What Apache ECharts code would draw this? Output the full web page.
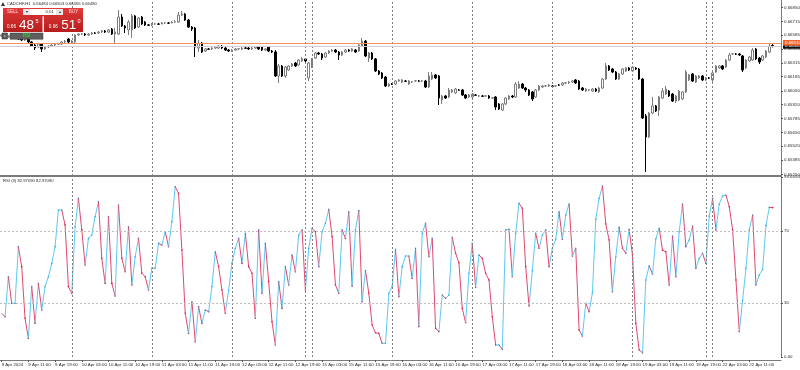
<!DOCTYPE html>
<html><head><meta charset="utf-8">
<script src="https://cdn.jsdelivr.net/npm/echarts@6/dist/echarts.min.js"></script>
<style>html,body{margin:0;padding:0;background:#fff;}#chart{width:800px;height:370px;}</style>
</head><body><div id="chart"></div>
<script>
const symbolTitle = 'CADCHF,H1  0.66484 0.66503 0.66465 0.66480';
const rsiTitle = 'RSI (3) 82.97090 82.97090';
const tradingDays = ['9 Apr','10 Apr','11 Apr','12 Apr','15 Apr','16 Apr','17 Apr','18 Apr','19 Apr','22 Apr'];
const dayHourRange = [[3,23],[0,23],[0,23],[0,23],[0,23],[0,23],[0,23],[0,23],[0,23],[0,18]];
const emptySlots = 2;
const xTickLabels = ['9 Apr 2024','9 Apr 11:00','9 Apr 19:00','10 Apr 03:00','10 Apr 11:00','10 Apr 19:00','11 Apr 03:00','11 Apr 11:00','11 Apr 19:00','12 Apr 03:00','12 Apr 11:00','12 Apr 19:00','15 Apr 03:00','15 Apr 11:00','15 Apr 19:00','16 Apr 03:00','16 Apr 11:00','16 Apr 19:00','17 Apr 03:00','17 Apr 11:00','17 Apr 19:00','18 Apr 03:00','18 Apr 11:00','18 Apr 19:00','19 Apr 03:00','19 Apr 11:00','19 Apr 19:00','22 Apr 03:00','22 Apr 11:00'];
const xTickEvery = 8;
const priceTicks = [0.66850,0.66715,0.66585,0.66450,0.66315,0.66185,0.66050,0.65920,0.65785,0.65650,0.65520,0.65385,0.65250];
const priceMin = 0.65234, priceMax = 0.66920;
const rsiTicks = [100, 70, 30, 0];
const rsiTickLabels = ['99.66945', '70', '30', '0.00'];
const rsiLevels = [70, 30];
const separatorIdx = [21,45,69,91,93,117,141,165,189,211,213];
const askPrice = 0.66510, bidPrice = 0.66480;

const opens = [0.66575,0.66585,0.66566,0.66575,0.66556,0.66566,0.66546,0.66537,0.66546,0.66518,
0.66489,0.66470,0.66498,0.66451,0.66470,0.66479,0.66489,0.66498,0.66498,0.66518,
0.66546,0.66518,0.66518,0.66585,0.66594,0.66594,0.66585,0.66594,0.66604,0.66604,
0.66613,0.66623,0.66613,0.66642,0.66594,0.66594,0.66757,0.66671,0.66633,0.66633,
0.66767,0.66661,0.66757,0.66709,0.66681,0.66681,0.66690,0.66690,0.66690,0.66700,
0.66700,0.66700,0.66709,0.66709,0.66776,0.66786,0.66728,0.66661,0.66652,0.66460,
0.66508,0.66431,0.66451,0.66451,0.66460,0.66460,0.66479,0.66460,0.66441,0.66431,
0.66441,0.66451,0.66451,0.66460,0.66460,0.66451,0.66460,0.66470,0.66470,0.66441,
0.66470,0.66431,0.66422,0.66192,0.66288,0.66192,0.66249,0.66288,0.66316,0.66297,
0.66336,0.66355,0.66173,0.66278,0.66364,0.66412,0.66403,0.66374,0.66412,0.66431,
0.66441,0.66422,0.66393,0.66422,0.66441,0.66431,0.66441,0.66431,0.66479,0.66527,
0.66364,0.66412,0.66355,0.66240,0.66221,0.66182,0.66096,0.66115,0.66115,0.66144,
0.66134,0.66144,0.66115,0.66134,0.66144,0.66144,0.66144,0.66144,0.66087,0.66163,
0.66202,0.66192,0.65962,0.66000,0.65991,0.66039,0.66029,0.66058,0.66058,0.66010,
0.65991,0.65991,0.66010,0.66000,0.66000,0.66000,0.66000,0.65981,0.65991,0.65924,
0.65866,0.65924,0.65972,0.66000,0.65991,0.66077,0.66115,0.66077,0.66058,0.66039,
0.65991,0.66058,0.66087,0.66096,0.66096,0.66096,0.66096,0.66106,0.66106,0.66125,
0.66125,0.66134,0.66154,0.66144,0.66077,0.66048,0.66058,0.66048,0.66067,0.66039,
0.66077,0.66163,0.66288,0.66259,0.66230,0.66163,0.66211,0.66240,0.66269,0.66240,
0.66269,0.66259,0.66163,0.65809,0.65608,0.65837,0.65905,0.65866,0.65981,0.66019,
0.66048,0.66019,0.65952,0.65962,0.65972,0.66039,0.66154,0.66211,0.66134,0.66173,
0.66192,0.66154,0.66173,0.66154,0.66230,0.66269,0.66288,0.66278,0.66345,0.66403,
0.66403,0.66403,0.66384,0.66269,0.66336,0.66345,0.66451,0.66364,0.66345,0.66374,
0.66422,0.66484];
const closes = [0.66585,0.66566,0.66575,0.66556,0.66566,0.66546,0.66537,0.66546,0.66518,0.66479,
0.66460,0.66498,0.66451,0.66470,0.66479,0.66489,0.66498,0.66500,0.66518,0.66527,
0.66518,0.66527,0.66585,0.66594,0.66596,0.66585,0.66594,0.66604,0.66602,0.66613,
0.66623,0.66613,0.66633,0.66594,0.66613,0.66757,0.66671,0.66652,0.66709,0.66767,
0.66652,0.66748,0.66690,0.66681,0.66679,0.66690,0.66692,0.66688,0.66700,0.66702,
0.66698,0.66709,0.66711,0.66776,0.66786,0.66728,0.66661,0.66642,0.66470,0.66508,
0.66422,0.66451,0.66449,0.66460,0.66470,0.66479,0.66460,0.66441,0.66431,0.66441,
0.66451,0.66453,0.66460,0.66458,0.66451,0.66460,0.66470,0.66451,0.66441,0.66451,
0.66431,0.66422,0.66192,0.66288,0.66192,0.66278,0.66288,0.66307,0.66288,0.66345,
0.66355,0.66336,0.66316,0.66345,0.66412,0.66403,0.66364,0.66412,0.66431,0.66441,
0.66422,0.66393,0.66422,0.66441,0.66431,0.66451,0.66422,0.66489,0.66527,0.66384,
0.66412,0.66355,0.66240,0.66211,0.66173,0.66096,0.66115,0.66113,0.66144,0.66154,
0.66154,0.66142,0.66144,0.66136,0.66146,0.66142,0.66146,0.66087,0.66192,0.66202,
0.66173,0.65981,0.66000,0.65981,0.66058,0.66058,0.66067,0.66056,0.66010,0.65981,
0.66010,0.66019,0.66008,0.66002,0.65998,0.66002,0.65981,0.65983,0.65895,0.65876,
0.65924,0.65981,0.66000,0.65991,0.66115,0.66115,0.66077,0.66058,0.66010,0.65972,
0.66058,0.66096,0.66096,0.66098,0.66106,0.66094,0.66098,0.66104,0.66125,0.66127,
0.66134,0.66144,0.66125,0.66067,0.66058,0.66067,0.66060,0.66067,0.66048,0.66077,
0.66163,0.66288,0.66249,0.66230,0.66163,0.66211,0.66259,0.66269,0.66249,0.66278,
0.66259,0.66163,0.65790,0.65608,0.65837,0.65905,0.65857,0.65991,0.66048,0.66067,
0.66000,0.65952,0.66000,0.66048,0.66039,0.66230,0.66202,0.66144,0.66192,0.66192,
0.66154,0.66173,0.66171,0.66221,0.66288,0.66288,0.66259,0.66345,0.66393,0.66405,
0.66401,0.66393,0.66249,0.66345,0.66374,0.66441,0.66355,0.66326,0.66384,0.66431,
0.66479,0.66480];
const lows = [0.66566,0.66556,0.66556,0.66546,0.66546,0.66537,0.66527,0.66527,0.66508,0.66470,
0.66441,0.66460,0.66422,0.66441,0.66460,0.66470,0.66479,0.66489,0.66489,0.66508,
0.66508,0.66508,0.66508,0.66575,0.66585,0.66575,0.66575,0.66585,0.66594,0.66594,
0.66604,0.66604,0.66604,0.66585,0.66508,0.66585,0.66661,0.66604,0.66585,0.66556,
0.66642,0.66652,0.66681,0.66671,0.66671,0.66671,0.66681,0.66681,0.66688,0.66690,
0.66690,0.66698,0.66700,0.66700,0.66767,0.66719,0.66652,0.66623,0.66374,0.66422,
0.66412,0.66422,0.66441,0.66441,0.66451,0.66451,0.66451,0.66431,0.66422,0.66422,
0.66431,0.66441,0.66441,0.66451,0.66441,0.66441,0.66451,0.66441,0.66431,0.66431,
0.66422,0.66412,0.66182,0.66125,0.66182,0.66173,0.66240,0.66278,0.66278,0.66288,
0.66326,0.66326,0.66144,0.66269,0.66355,0.66393,0.66345,0.66364,0.66403,0.66422,
0.66412,0.66345,0.66384,0.66412,0.66422,0.66422,0.66412,0.66422,0.66470,0.66374,
0.66326,0.66345,0.66230,0.66202,0.66163,0.66087,0.66087,0.66106,0.66106,0.66134,
0.66125,0.66134,0.66106,0.66125,0.66134,0.66134,0.66134,0.66077,0.66077,0.66154,
0.66163,0.65914,0.65924,0.65972,0.65981,0.66029,0.66019,0.66048,0.66000,0.65972,
0.65981,0.65981,0.66000,0.65991,0.65991,0.65991,0.65972,0.65972,0.65866,0.65866,
0.65857,0.65914,0.65962,0.65981,0.65981,0.66067,0.66067,0.66039,0.66000,0.65952,
0.65981,0.66048,0.66077,0.66087,0.66087,0.66087,0.66087,0.66096,0.66096,0.66115,
0.66115,0.66125,0.66115,0.66058,0.66048,0.66039,0.66048,0.66039,0.66039,0.66029,
0.66067,0.66154,0.66240,0.66221,0.66154,0.66154,0.66202,0.66230,0.66240,0.66230,
0.66249,0.66154,0.65780,0.65272,0.65598,0.65828,0.65847,0.65809,0.65972,0.66010,
0.65991,0.65943,0.65933,0.65952,0.65962,0.66029,0.66144,0.66134,0.66125,0.66163,
0.66144,0.66144,0.66163,0.66134,0.66221,0.66259,0.66249,0.66269,0.66336,0.66393,
0.66393,0.66384,0.66230,0.66259,0.66326,0.66336,0.66345,0.66307,0.66336,0.66364,
0.66412,0.66465];
const highs = [0.66594,0.66594,0.66585,0.66585,0.66575,0.66575,0.66556,0.66556,0.66556,0.66527,
0.66498,0.66508,0.66508,0.66479,0.66489,0.66498,0.66508,0.66508,0.66527,0.66537,
0.66556,0.66537,0.66594,0.66604,0.66604,0.66604,0.66604,0.66613,0.66613,0.66623,
0.66633,0.66633,0.66642,0.66652,0.66652,0.66824,0.66786,0.66681,0.66728,0.66786,
0.66776,0.66757,0.66767,0.66719,0.66690,0.66700,0.66700,0.66700,0.66709,0.66709,
0.66709,0.66719,0.66728,0.66805,0.66815,0.66795,0.66738,0.66671,0.66661,0.66537,
0.66518,0.66460,0.66460,0.66470,0.66479,0.66489,0.66489,0.66470,0.66451,0.66451,
0.66460,0.66460,0.66470,0.66470,0.66470,0.66470,0.66479,0.66479,0.66479,0.66460,
0.66479,0.66441,0.66441,0.66307,0.66297,0.66288,0.66297,0.66316,0.66326,0.66355,
0.66374,0.66364,0.66326,0.66364,0.66422,0.66422,0.66412,0.66422,0.66441,0.66451,
0.66451,0.66431,0.66431,0.66451,0.66451,0.66460,0.66451,0.66498,0.66556,0.66537,
0.66422,0.66422,0.66364,0.66249,0.66230,0.66192,0.66125,0.66125,0.66154,0.66163,
0.66163,0.66154,0.66154,0.66144,0.66154,0.66154,0.66154,0.66154,0.66230,0.66230,
0.66211,0.66202,0.66010,0.66010,0.66077,0.66067,0.66077,0.66067,0.66067,0.66019,
0.66019,0.66029,0.66019,0.66010,0.66010,0.66010,0.66010,0.65991,0.66000,0.65933,
0.65933,0.65991,0.66010,0.66010,0.66134,0.66144,0.66125,0.66087,0.66067,0.66048,
0.66067,0.66106,0.66106,0.66106,0.66115,0.66106,0.66106,0.66115,0.66134,0.66134,
0.66144,0.66154,0.66163,0.66154,0.66087,0.66077,0.66067,0.66077,0.66077,0.66087,
0.66173,0.66316,0.66297,0.66269,0.66240,0.66221,0.66269,0.66278,0.66278,0.66288,
0.66278,0.66269,0.66173,0.65828,0.65847,0.65991,0.65914,0.66000,0.66077,0.66096,
0.66058,0.66029,0.66010,0.66058,0.66048,0.66249,0.66211,0.66221,0.66202,0.66202,
0.66202,0.66182,0.66182,0.66230,0.66297,0.66297,0.66297,0.66355,0.66412,0.66412,
0.66412,0.66412,0.66393,0.66355,0.66384,0.66460,0.66460,0.66374,0.66393,0.66441,
0.66508,0.66503];
const rsiValues = [24.3,22.4,44.6,29.8,29.8,61.3,50.2,21.5,10.4,39.1,
18.7,40.9,26.1,39.1,44.6,52.0,61.3,81.7,81.7,73.3,
39.1,35.4,72.4,88.1,70.6,51.1,65.9,67.8,78.0,86.3,
54.8,40.9,78.0,40.9,33.9,84.4,54.8,47.4,72.4,40.0,
55.7,65.9,46.5,44.6,37.2,49.3,49.3,63.1,62.2,69.6,
61.3,75.2,94.6,90.9,59.4,24.3,13.1,30.7,8.5,28.0,
18.7,26.1,25.2,39.1,58.5,50.2,37.2,24.3,37.2,52.0,
60.4,65.9,52.0,68.7,50.2,46.5,21.5,70.6,
35.4,63.1,41.9,19.6,6.7,41.9,27.0,50.2,40.0,56.7,
47.4,67.8,70.6,37.2,60.4,71.5,69.6,50.2,69.6,74.3,
82.0,66.9,40.0,35.4,70.6,65.9,80.7,39.4,70.6,81.3,
30.7,48.0,35.4,17.8,13.5,13.1,7.6,7.6,35.4,39.1,
59.8,33.5,50.2,56.1,56.1,43.7,60.4,16.9,68.7,74.3,
55.7,65.9,15.9,14.1,34.4,32.6,34.4,66.5,57.6,52.4,
27.0,19.1,46.5,63.1,38.7,56.7,54.8,46.5,42.8,22.4,
6.7,6.7,4.3,70.6,70.9,44.6,68.7,85.4,
82.6,50.2,28.3,48.0,68.7,60.4,67.8,70.6,50.2,60.4,
65.4,80.7,65.4,78.9,85.0,56.1,60.4,15.0,11.7,29.8,
25.2,35.7,76.5,88.1,95.0,73.9,65.0,36.3,55.7,72.0,
60.4,57.6,70.9,56.7,18.7,3.9,2.4,42.8,50.6,46.1,
65.7,71.5,59.4,58.5,40.0,67.2,44.6,69.6,85.0,61.3,
65.0,72.8,49.3,54.8,57.6,52.0,78.3,88.1,70.6,85.0,
89.4,90.0,83.5,70.6,42.8,14.1,31.7,49.3,70.6,78.9,
40.0,45.6,48.7,73.1,83.1,82.97];

// ---- build categories (hourly bars) ----
const categories = [];
tradingDays.forEach((d, k) => {
  for (let h = dayHourRange[k][0]; h <= dayHourRange[k][1]; h++) categories.push(d + ' ' + String(h).padStart(2, '0') + ':00');
});
for (let e = 0; e < emptySlots; e++) categories.push(' '.repeat(e + 1));

const candleData = opens.map((o, i) => [o, closes[i], lows[i], highs[i]]);
const showTick = (i) => i % xTickEvery === 0 && i / xTickEvery < xTickLabels.length;

const FONT = 'Liberation Sans';
const TXT = '#2b2b2b';
const UP = '#5ec8f2', DN = '#e2476f', UPD = '#1f9fe0', DND = '#c8143f';
const SEP = { color: '#7f7f7f', type: [2, 2], width: 1 };
const sepLines = separatorIdx.map(v => ({ xAxis: v, lineStyle: SEP, label: { show: false } }));
const priceLabel = (bg) => ({ show: true, position: 'end', backgroundColor: bg, color: '#fff', fontSize: 4.4, fontFamily: FONT, padding: [0.8, 2], distance: 2 });

const chart = echarts.init(document.getElementById('chart'), null, { renderer: 'canvas' });
const option = {
  animation: false,
  backgroundColor: '#ffffff',
  grid: [
    { left: 0, top: 0, width: 781, height: 176, containLabel: false, outerBoundsMode: 'none' },
    { left: 0, top: 177, width: 781, height: 180, containLabel: false, outerBoundsMode: 'none' }
  ],
  xAxis: [
    { gridIndex: 0, type: 'category', data: categories, boundaryGap: true,
      axisLine: { show: true, lineStyle: { color: '#7a7a7a', width: 2 } },
      axisTick: { show: false }, axisLabel: { show: false }, splitLine: { show: false } },
    { gridIndex: 1, type: 'category', data: categories, boundaryGap: true, offset: 3,
      axisLine: { show: true, onZero: false, lineStyle: { color: '#7a7a7a', width: 1 } },
      axisTick: { show: true, alignWithLabel: true, interval: (i) => showTick(i), length: 2, lineStyle: { color: '#555' } },
      axisLabel: { show: true, interval: (i) => showTick(i), formatter: (v, i) => xTickLabels[i / xTickEvery],
        fontSize: 4.4, fontFamily: FONT, color: TXT, align: 'left', margin: 3 },
      splitLine: { show: false } }
  ],
  yAxis: [
    { gridIndex: 0, type: 'value', position: 'right', min: priceMin, max: priceMax,
      axisLine: { show: true, lineStyle: { color: '#7a7a7a', width: 1 } },
      axisTick: { show: true, customValues: priceTicks, length: 2, lineStyle: { color: '#555' } },
      axisLabel: { customValues: priceTicks, formatter: v => v.toFixed(5), fontSize: 4.4, fontFamily: FONT, color: TXT, margin: 3 },
      splitLine: { show: false } },
    { gridIndex: 1, type: 'value', position: 'right', min: 0, max: 100,
      axisLine: { show: true, lineStyle: { color: '#7a7a7a', width: 1 } },
      axisTick: { show: true, customValues: rsiTicks, length: 2, lineStyle: { color: '#555' } },
      axisLabel: { customValues: rsiTicks, formatter: v => rsiTickLabels[rsiTicks.indexOf(v)], fontSize: 4.4, fontFamily: FONT, color: TXT, margin: 3,
        showMinLabel: true, showMaxLabel: true },
      splitLine: { show: false } }
  ],
  series: [
    { type: 'line', xAxisIndex: 0, yAxisIndex: 0, data: [], silent: true, z: 1,
      markLine: { silent: true, symbol: 'none', animation: false, precision: 5,
        data: [
          ...sepLines,
          { yAxis: bidPrice, lineStyle: { color: '#cfcfcf', type: 'solid', width: 1 }, label: Object.assign(priceLabel('#111'), { formatter: bidPrice.toFixed(5) }) },
          { yAxis: askPrice, lineStyle: { color: '#f3925e', type: 'solid', width: 1.2 }, label: Object.assign(priceLabel('#f0642a'), { formatter: askPrice.toFixed(5) }) }
        ] } },
    { type: 'candlestick', xAxisIndex: 0, yAxisIndex: 0, data: candleData, barWidth: 2, z: 3,
      itemStyle: { color: '#ffffff', color0: '#000000', borderColor: '#7d7d7d', borderColor0: '#000000', borderWidth: 1 } },
    { type: 'line', xAxisIndex: 1, yAxisIndex: 1, data: [], silent: true,
      markLine: { silent: true, symbol: 'none', animation: false, precision: 5,
        data: [
          ...sepLines,
          ...rsiLevels.map(v => ({ yAxis: v, lineStyle: { color: '#bdbdbd', type: [2, 2], width: 1 }, label: { show: false } }))
        ] } },
    { type: 'custom', xAxisIndex: 1, yAxisIndex: 1, silent: true, z: 3,
      data: rsiValues.map((v, i) => [i, v]), encode: { x: 0, y: 1 },
      renderItem: (params, api) => {
        const i = params.dataIndex;
        const p1 = api.coord([i, rsiValues[i]]);
        const children = [];
        if (i > 0) {
          const p0 = api.coord([i - 1, rsiValues[i - 1]]);
          const up = rsiValues[i] >= rsiValues[i - 1];
          children.push({ type: 'line', shape: { x1: p0[0], y1: p0[1], x2: p1[0], y2: p1[1] }, style: { stroke: up ? UP : DN, lineWidth: 1 } });
          children.push({ type: 'circle', shape: { cx: p1[0], cy: p1[1], r: 0.8 }, style: { fill: up ? UPD : DND } });
        }
        return { type: 'group', children };
      } }
  ],
  graphic: [
    { type: 'polygon', shape: { points: [[1, 6], [3, 2], [5, 6]] }, style: { fill: '#333' }, z: 100 },
    { type: 'text', left: 7, top: 1.5, style: { text: symbolTitle, fontSize: 4.2, fontFamily: FONT, fill: TXT }, z: 100 },
    { type: 'text', left: 3, top: 178.5, style: { text: rsiTitle, fontSize: 4.2, fontFamily: FONT, fill: TXT }, z: 100 },
    { type: 'rect', shape: { x: 3, y: 8, width: 80, height: 24 }, style: { fill: new echarts.graphic.LinearGradient(0, 0, 0, 1, [{ offset: 0, color: '#e23b3b' }, { offset: 1, color: '#b71c1c' }]) }, z: 100 },
    { type: 'rect', shape: { x: 23, y: 9, width: 7, height: 6 }, style: { fill: '#e6e6e6' }, z: 101 },
    { type: 'rect', shape: { x: 30, y: 9, width: 26, height: 6 }, style: { fill: '#ffffff' }, z: 101 },
    { type: 'rect', shape: { x: 56, y: 9, width: 7, height: 6 }, style: { fill: '#e6e6e6' }, z: 101 },
    { type: 'text', x: 26.5, y: 12, style: { text: '▾', fontSize: 4, fill: '#333', align: 'center', verticalAlign: 'middle' }, z: 102 },
    { type: 'text', x: 59.5, y: 12, style: { text: '▴', fontSize: 4, fill: '#333', align: 'center', verticalAlign: 'middle' }, z: 102 },
    { type: 'text', x: 54, y: 12.2, style: { text: '0.01', fontSize: 4.4, fontFamily: FONT, fill: '#333', align: 'right', verticalAlign: 'middle' }, z: 102 },
    { type: 'text', x: 12.5, y: 12.2, style: { text: 'SELL', fontSize: 4.6, fontFamily: FONT, fill: '#ffd9d9', align: 'center', verticalAlign: 'middle' }, z: 102 },
    { type: 'text', x: 73.5, y: 12.2, style: { text: 'BUY', fontSize: 4.6, fontFamily: FONT, fill: '#ffd9d9', align: 'center', verticalAlign: 'middle' }, z: 102 },
    { type: 'rect', shape: { x: 42.5, y: 16, width: 1.5, height: 16 }, style: { fill: '#f2f2f2' }, z: 101 },
    { type: 'rect', shape: { x: 3, y: 15.5, width: 80, height: 0.8 }, style: { fill: '#c62828' }, z: 101 },
    { type: 'text', x: 7, y: 26.8, style: { text: '0.66', fontSize: 4.6, fontFamily: FONT, fill: '#fff', verticalAlign: 'middle' }, z: 102 },
    { type: 'text', x: 19, y: 25, style: { text: '48', fontSize: 13.5, fontFamily: FONT, fill: '#fff', verticalAlign: 'middle' }, z: 102 },
    { type: 'text', x: 35.6, y: 21.3, style: { text: '5', fontSize: 5.5, fontFamily: FONT, fill: '#fff', verticalAlign: 'middle' }, z: 102 },
    { type: 'text', x: 48.8, y: 26.8, style: { text: '0.66', fontSize: 4.6, fontFamily: FONT, fill: '#fff', verticalAlign: 'middle' }, z: 102 },
    { type: 'text', x: 61.3, y: 25, style: { text: '51', fontSize: 13.5, fontFamily: FONT, fill: '#fff', verticalAlign: 'middle' }, z: 102 },
    { type: 'text', x: 77.5, y: 21.3, style: { text: '0', fontSize: 5.5, fontFamily: FONT, fill: '#fff', verticalAlign: 'middle' }, z: 102 },
    { type: 'rect', shape: { x: 2, y: 33, width: 5.5, height: 6 }, style: { fill: '#5b5b5b', stroke: '#333', lineWidth: 0.5 }, z: 100 },
    { type: 'text', x: 4.75, y: 36, style: { text: 'x', fontSize: 4, fontFamily: FONT, fill: '#ddd', align: 'center', verticalAlign: 'middle' }, z: 101 },
    { type: 'rect', shape: { x: 10, y: 33, width: 33, height: 6.3 }, style: { fill: '#5e5e5e', stroke: '#3a3a3a', lineWidth: 0.5 }, z: 100 },
    { type: 'text', x: 26.5, y: 36.2, style: { text: 'RSI', fontSize: 4.6, fontFamily: FONT, fontWeight: 'bold', fill: '#2bd12b', align: 'center', verticalAlign: 'middle' }, z: 101 }
  ]
};
chart.setOption(option);
</script>
</body></html>
